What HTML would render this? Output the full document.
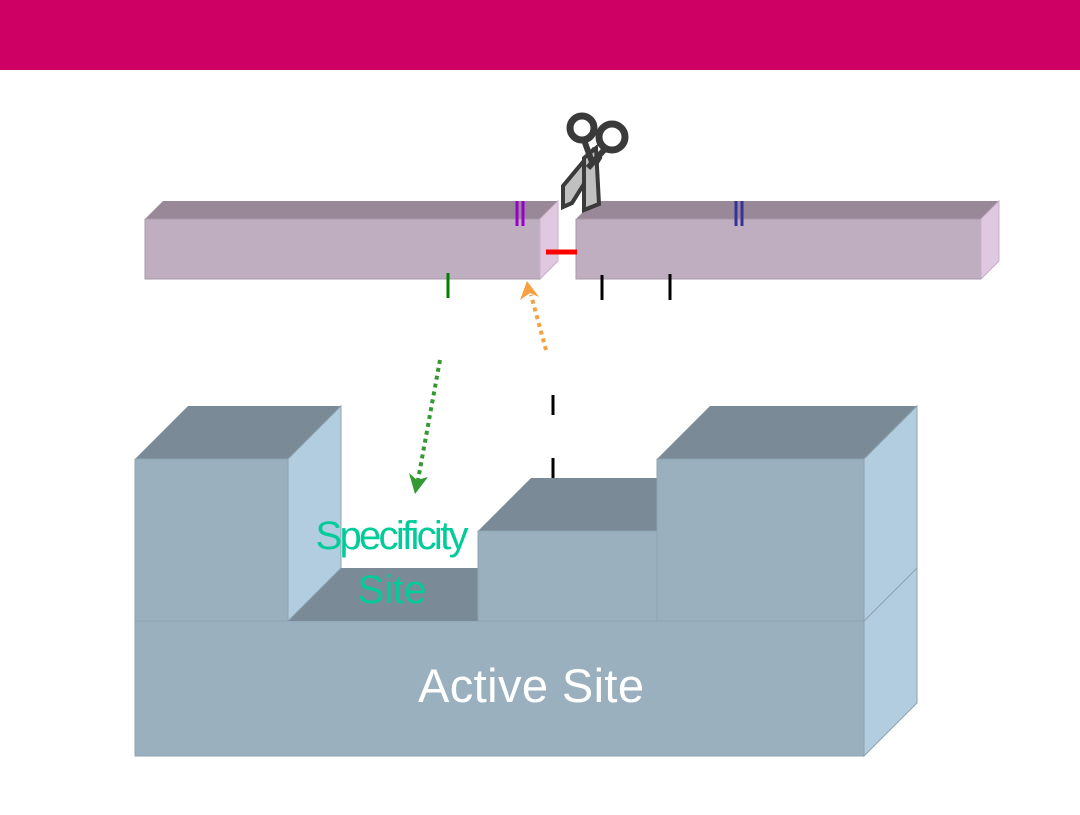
<!DOCTYPE html>
<html><head><style>body{margin:0;width:1080px;height:810px;overflow:hidden;background:#fff}</style></head>
<body>
<svg width="1080" height="810" viewBox="0 0 1080 810" xmlns="http://www.w3.org/2000/svg">
<rect x="0" y="0" width="1080" height="70" fill="#cf0063"/>
<!-- left bar -->
<polygon points="145,219 163,201 558,201 540,219" fill="#988898"/>
<rect x="145" y="219" width="395" height="60" fill="#bfaec0" stroke="#a898a8" stroke-width="1"/>
<polygon points="540,219 558,201 558,261 540,279" fill="#e0c8e0" stroke="#c8b0c8" stroke-width="1"/>
<!-- right bar -->
<polygon points="576,219 594,201 999,201 981,219" fill="#988898"/>
<rect x="576" y="219" width="405" height="60" fill="#bfaec0" stroke="#a898a8" stroke-width="1"/>
<polygon points="981,219 999,201 999,261 981,279" fill="#e0c8e0" stroke="#c8b0c8" stroke-width="1"/>
<line x1="546" y1="252" x2="577" y2="252" stroke="#ff0000" stroke-width="5"/>
<g stroke="#9900cc" stroke-width="3"><line x1="517" y1="201" x2="517" y2="226"/><line x1="523" y1="201" x2="523" y2="226"/></g>
<g stroke="#333399" stroke-width="3"><line x1="736" y1="201" x2="736" y2="226"/><line x1="742" y1="201" x2="742" y2="226"/></g>
<line x1="448" y1="273" x2="448" y2="298" stroke="#008000" stroke-width="3"/>
<g stroke="#000" stroke-width="3"><line x1="602" y1="275" x2="602" y2="300"/><line x1="670" y1="274" x2="670" y2="300"/>
<line x1="553" y1="395" x2="553" y2="415"/><line x1="553" y1="458" x2="553" y2="478"/></g>
<!-- scissors -->
<polygon points="563,207 563,186 593,150 600,158 572,203" fill="#c0c0c0" stroke="#3a3a3a" stroke-width="4"/>
<polygon points="584,210 584,158 596,148 599,204" fill="#c0c0c0" stroke="#3a3a3a" stroke-width="4"/>
<line x1="584" y1="140" x2="592" y2="162" stroke="#3a3a3a" stroke-width="6"/>
<line x1="604" y1="150" x2="588" y2="168" stroke="#3a3a3a" stroke-width="6"/>
<g stroke="#3a3a3a" stroke-width="7" fill="none">
<circle cx="582" cy="128" r="12"/><circle cx="612" cy="137" r="13"/>
</g>
<!-- arrows -->
<line x1="546" y1="350" x2="531" y2="295" stroke="#f7a040" stroke-width="4" stroke-dasharray="4,4"/>
<polygon points="527,281 520,300 530,293 539,297" fill="#f7a040"/>
<line x1="440" y1="360" x2="418" y2="480" stroke="#339933" stroke-width="4" stroke-dasharray="4,4"/>
<polygon points="415,494 409,473 417,480 428,477" fill="#339933"/>
<!-- blocks -->
<polygon points="864,621 917,568 917,703 864,756" fill="#b3cde0" stroke="#8fa4b2"/>
<rect x="135" y="621" width="729" height="135" fill="#9ab0be" stroke="#8fa4b2"/>
<polygon points="288,621 341,568 478,568 478,621" fill="#7a8a96"/>
<polygon points="135,459 188,406 341,406 288,459" fill="#7a8a96"/>
<polygon points="288,459 341,406 341,568 288,621" fill="#b3cde0" stroke="#8fa4b2"/>
<rect x="135" y="459" width="153" height="162" fill="#9ab0be" stroke="#8fa4b2"/>
<polygon points="478,531 531,478 657,478 657,531" fill="#7a8a96"/>
<rect x="478" y="531" width="179" height="90" fill="#9ab0be" stroke="#8fa4b2"/>
<polygon points="657,459 710,406 917,406 864,459" fill="#7a8a96"/>
<polygon points="864,459 917,406 917,568 864,621" fill="#b3cde0" stroke="#8fa4b2"/>
<rect x="657" y="459" width="207" height="162" fill="#9ab0be" stroke="#8fa4b2"/>
<text x="531" y="702" font-family="Liberation Sans, sans-serif" font-size="47" fill="#fff" text-anchor="middle" textLength="226">Active Site</text>
<text x="392" y="549" font-family="Liberation Sans, sans-serif" font-size="40" fill="#00cc99" text-anchor="middle" textLength="153">Specificity</text>
<text x="392" y="603" font-family="Liberation Sans, sans-serif" font-size="40" fill="#00cc99" text-anchor="middle">Site</text>
</svg>
</body></html>
